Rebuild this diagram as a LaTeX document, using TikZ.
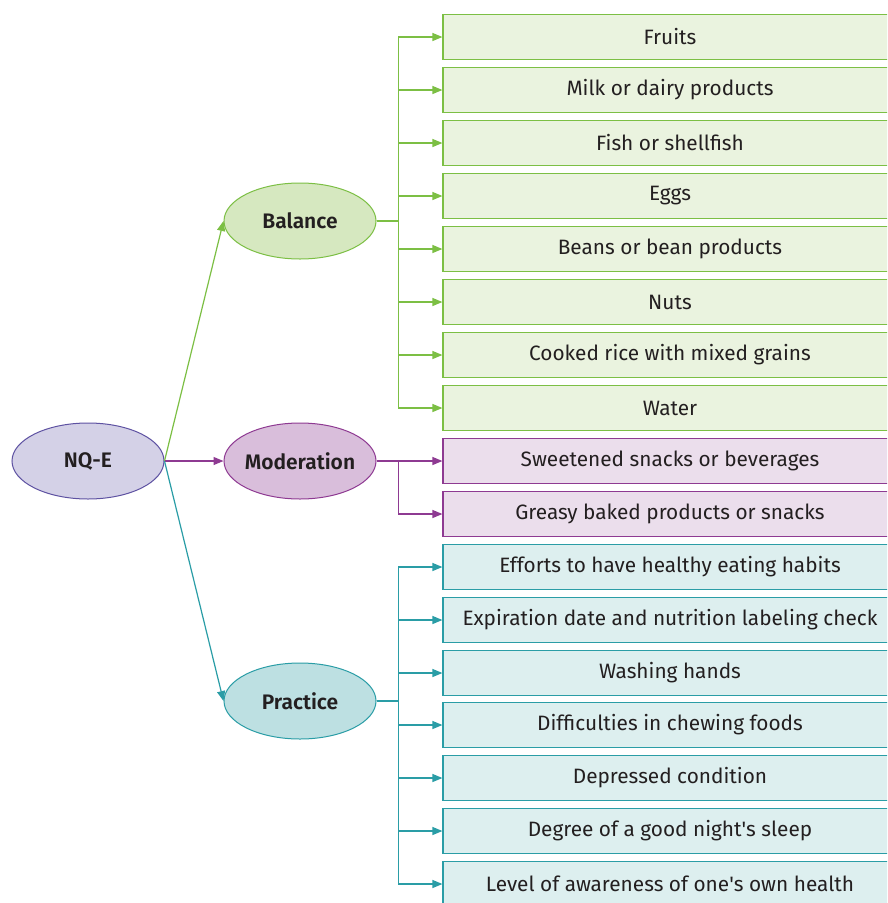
\documentclass[tikz,border=0pt]{standalone}
\usepackage{fontspec}
\setmainfont{Fira Sans}[BoldFont={* SemiBold}]
\usetikzlibrary{arrows.meta,shapes.geometric}
\definecolor{gline}{HTML}{7CBF44}
\definecolor{gfill}{HTML}{D6E8C0}
\definecolor{gbox}{HTML}{EAF3DF}
\definecolor{pline}{HTML}{8E3A92}
\definecolor{pfill}{HTML}{D9BEDB}
\definecolor{pbox}{HTML}{EBDEEC}
\definecolor{tline}{HTML}{2A9DA6}
\definecolor{tfill}{HTML}{BDE0E2}
\definecolor{tbox}{HTML}{DDEFEF}
\definecolor{nline}{HTML}{5E52A2}
\definecolor{nfill}{HTML}{D4D1E7}
\definecolor{txt}{HTML}{231F20}
\newcommand{\apos}{\textquotesingle}
\newcommand{\ctr}[1]{\makebox[0pt][c]{#1}}
\tikzset{
  ell/.style={ellipse, draw=#1, line width=1pt, minimum width=152pt, minimum height=76pt, inner sep=0pt, text=txt, font=\fontsize{21}{24}\selectfont\bfseries},
  itembox/.style={rectangle, draw=#1, line width=1.2pt, minimum width=454pt, minimum height=45pt, inner sep=0pt, text=txt, font=\fontsize{20.8}{24}\selectfont},
  conn/.style={draw=#1, line width=1.2pt, -{Triangle[length=10pt,width=8pt]}},
}
\begin{document}
\begin{tikzpicture}[x=1pt,y=-1pt]
\clip (0,0) rectangle (887,903);
\fill[white] (0,0) rectangle (887,903);
% main ellipses
\node[ell=nline, fill=nfill] (nq) at (88,461) {\ctr{NQ-E}};
\node[ell=gline, fill=gfill] (bal) at (300,221) {\ctr{Balance}};
\node[ell=pline, fill=pfill] (mod) at (300,461) {\ctr{Moderation}};
\node[ell=tline, fill=tfill] (pra) at (300,701) {\ctr{Practice}};
% boxes
\node[itembox=gline, fill=gbox] (g1) at (670,37) {Fruits};
\node[itembox=gline, fill=gbox] (g2) at (670,90) {Milk or dairy products};
\node[itembox=gline, fill=gbox] (g3) at (670,143) {Fish or shellfish};
\node[itembox=gline, fill=gbox] (g4) at (670,196) {Eggs};
\node[itembox=gline, fill=gbox] (g5) at (670,249) {Beans or bean products};
\node[itembox=gline, fill=gbox] (g6) at (670,302) {Nuts};
\node[itembox=gline, fill=gbox] (g7) at (670,355) {Cooked rice with mixed grains};
\node[itembox=gline, fill=gbox] (g8) at (670,408) {Water};
\node[itembox=pline, fill=pbox] (p1) at (670,461) {Sweetened snacks or beverages};
\node[itembox=pline, fill=pbox] (p2) at (670,514) {Greasy baked products or snacks};
\node[itembox=tline, fill=tbox] (t1) at (670,567) {Efforts to have healthy eating habits};
\node[itembox=tline, fill=tbox] (t2) at (670,620) {Expiration date and nutrition labeling check};
\node[itembox=tline, fill=tbox] (t3) at (670,673) {Washing hands};
\node[itembox=tline, fill=tbox] (t4) at (670,725) {Difficulties in chewing foods};
\node[itembox=tline, fill=tbox] (t5) at (670,778) {Depressed condition};
\node[itembox=tline, fill=tbox] (t6) at (670,831) {Degree of a good night\apos s sleep};
\node[itembox=tline, fill=tbox] (t7) at (670,884) {Level of awareness of one\apos s own health};
% connectors from NQ-E
\draw[conn=gline] (nq.east) -- (bal.west);
\draw[conn=pline] (nq.east) -- (mod.west);
\draw[conn=tline] (nq.east) -- (pra.west);
% branch connectors
\foreach \b in {g1,g2,g3,g4,g5,g6,g7,g8}
  \draw[conn=gline] (bal.east) -- ++(22,0) |- (\b.west);
\foreach \b in {p1,p2}
  \draw[conn=pline] (mod.east) -- ++(22,0) |- (\b.west);
\foreach \b in {t1,t2,t3,t4,t5,t6,t7}
  \draw[conn=tline] (pra.east) -- ++(22,0) |- (\b.west);
\end{tikzpicture}
\end{document}
